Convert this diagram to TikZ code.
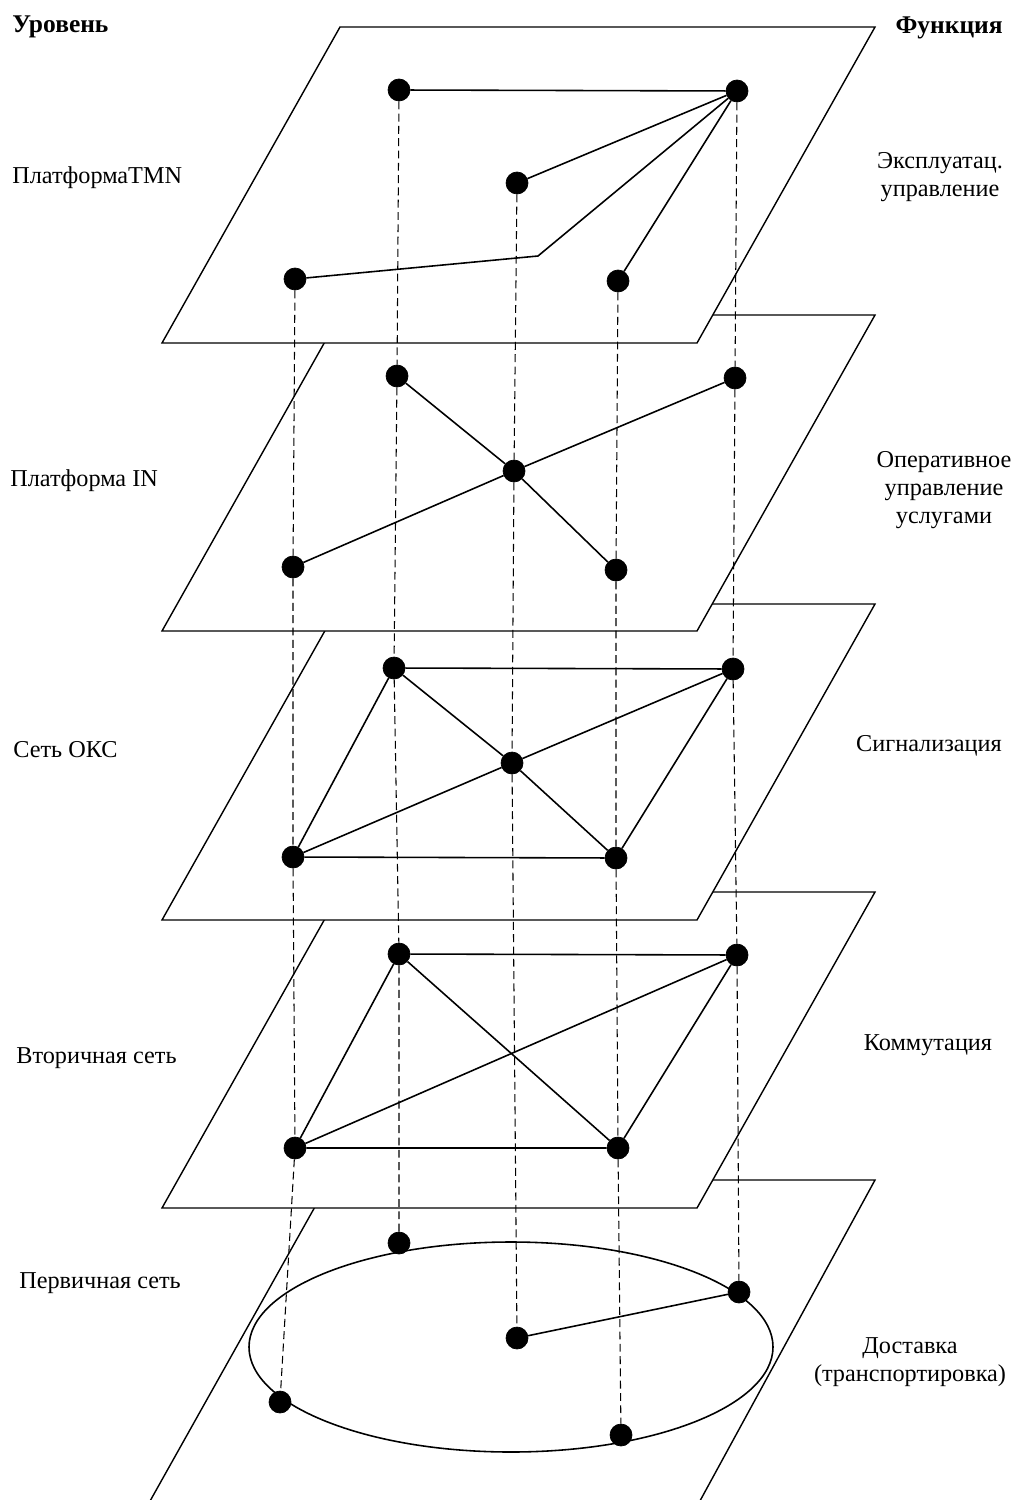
\documentclass[tikz,border=0pt]{standalone}
\usepackage{fontspec}
\setmainfont{Liberation Serif}
\usetikzlibrary{positioning}
\tikzset{
    netnode/.style = {circle, fill=black, draw=black, inner sep=0pt, minimum size=0.44cm},
    plane/.style = {fill=white, draw=black, line width=0.8pt},
    edgen/.style = {-, line width=0.9pt, black},
    edged/.style = {-, line width=0.6pt, black, dash pattern=on 4.5pt off 2.5pt}, % projection
    lbl/.style = {font=\fontsize{13.8}{16}\selectfont, align=center, inner sep=0pt},
    head/.style = {font=\fontsize{14.5}{17}\selectfont\bfseries, inner sep=0pt}
}

\begin{document}
\begin{tikzpicture}[x=0.02cm, y=-0.02cm]
  \useasboundingbox (0,0) rectangle (1017,1500);
  \clip (0,0) rectangle (1017,1500);

  % planes, lowest first
  \filldraw[plane] (330,1180) -- (875,1180) -- (695,1510) -- (145,1510) -- cycle;
  \foreach \t in {892,604,315,27}
    \filldraw[plane] (340,\t) -- (875,\t) -- (697,\t+316) -- (162,\t+316) -- cycle;

  % TMN
  \node[netnode] (a1) at (399,90) {};
  \node[netnode] (b1) at (737,91) {};
  \node[netnode] (c1) at (517,183) {};
  \node[netnode] (d1) at (295,279) {};
  \node[netnode] (e1) at (618,281) {};
  \coordinate (k1) at (538,256);
  % IN
  \node[netnode] (a2) at (397,376) {};
  \node[netnode] (b2) at (735,378) {};
  \node[netnode] (c2) at (514,471) {};
  \node[netnode] (d2) at (293,567) {};
  \node[netnode] (e2) at (616,570) {};
  % OKS
  \node[netnode] (a3) at (394,668) {};
  \node[netnode] (b3) at (733,669) {};
  \node[netnode] (c3) at (512,763) {};
  \node[netnode] (d3) at (293,857) {};
  \node[netnode] (e3) at (616,858) {};
  % secondary
  \node[netnode] (a4) at (399,954) {};
  \node[netnode] (b4) at (737,955) {};
  \node[netnode] (d4) at (295,1148) {};
  \node[netnode] (e4) at (618,1148) {};
  % primary
  \node[netnode] (a5) at (399,1243) {};
  \node[netnode] (b5) at (739,1292) {};
  \node[netnode] (c5) at (517,1338) {};
  \node[netnode] (d5) at (280,1402) {};
  \node[netnode] (e5) at (621,1435) {};

  \draw[edgen] (a1) -- (b1);
  \draw[edgen] (b1) -- (c1);
  \draw[edgen] (b1) -- (k1) -- (d1);
  \draw[edgen] (b1) -- (e1);

  \draw[edgen] (a2) -- (c2) -- (e2);
  \draw[edgen] (b2) -- (c2) -- (d2);

  \draw[edgen] (a3) -- (b3) -- (e3) -- (d3) -- (a3);
  \draw[edgen] (a3) -- (c3) -- (e3);
  \draw[edgen] (b3) -- (c3) -- (d3);

  \draw[edgen] (a4) -- (b4) -- (e4) -- (d4) -- (a4);
  \draw[edgen] (a4) -- (e4);
  \draw[edgen] (b4) -- (d4);

  \draw[edgen] (511,1347) ellipse [x radius=262, y radius=105];
  \draw[edgen] (c5) -- (b5);

  \draw[edged] (a1) -- (a2) -- (a3) -- (a4) -- (a5);
  \draw[edged] (b1) -- (b2) -- (b3) -- (b4) -- (b5);
  \draw[edged] (c1) -- (c2) -- (c3) -- (c5);
  \draw[edged] (d1) -- (d2) -- (d3) -- (d4) -- (d5);
  \draw[edged] (e1) -- (e2) -- (e3) -- (e4) -- (e5);

  % labels
  \node[head, anchor=west] (lvl) at (12,27) {Уровень};
  \node[head, anchor=east] (fun) at (1003,28) {Функция};

  \node[lbl, anchor=west] (t1) at (12,178) {ПлатформаTMN};
  \node[lbl, anchor=west] (t2) at (10,481) {Платформа IN};
  \node[lbl, anchor=west] (t3) at (13,750) {Сеть ОКС};
  \node[lbl, anchor=west] (t4) at (16,1058) {Вторичная сеть};
  \node[lbl, anchor=west] (t5) at (19,1283) {Первичная сеть};

  \node[lbl] (f1) at (940,177) {Эксплуатац.\\управление};
  \node[lbl] (f2) at (944,490) {Оперативное\\управление\\услугами};
  \node[lbl] (f3) at (929,746) {Сигнализация};
  \node[lbl] (f4) at (928,1045) {Коммутация};
  \node[lbl] (f5) at (910,1362) {Доставка\\(транспортировка)};
\end{tikzpicture}
\end{document}
